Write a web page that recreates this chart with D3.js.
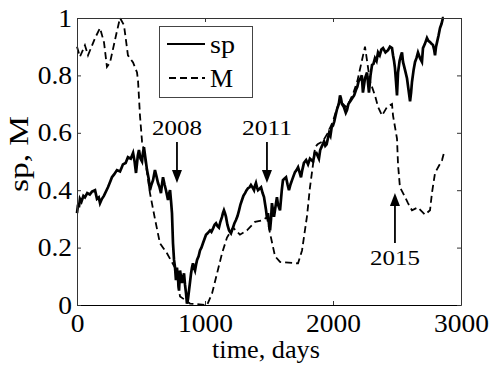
<!DOCTYPE html>
<html>
<head>
<meta charset="utf-8">
<script src="https://cdn.jsdelivr.net/npm/d3@7"></script>
<style>
  body { margin: 0; background: #fff; }
  text { font-family: "Liberation Serif", "Times New Roman", serif; fill: #000; }
</style>
</head>
<body>
<div id="chart"></div>
<script>
// sp series (time in days, normalised value)
var spDays = [0, 8, 15, 23, 35, 50, 62, 80, 100, 117, 141, 156, 170, 180, 195, 210, 242, 260, 273, 290,
  312, 336, 350, 359, 380, 398, 420, 438, 450, 461, 475, 484, 496, 508, 515, 523, 535, 547, 560, 570,
  582, 594, 609, 620, 633, 645, 656, 664, 672, 684, 695, 711, 720, 727, 735, 742, 750, 758, 766, 773,
  781, 789, 797, 805, 812, 820, 828, 836, 844, 852, 859, 867, 875, 883, 891, 898, 906, 914, 922, 930,
  938, 950, 961, 972, 984, 996, 1008, 1020, 1039, 1050, 1063, 1075, 1086, 1098, 1109, 1120, 1133, 1140, 1148, 1156,
  1164, 1175, 1188, 1195, 1203, 1211, 1219, 1230, 1242, 1254, 1266, 1277, 1289, 1300, 1313, 1325, 1336, 1348, 1359, 1371,
  1383, 1390, 1398, 1406, 1414, 1426, 1438, 1450, 1461, 1470, 1477, 1485, 1492, 1500, 1508, 1516, 1523, 1531, 1539, 1550,
  1562, 1570, 1586, 1600, 1609, 1620, 1633, 1645, 1656, 1668, 1680, 1692, 1703, 1715, 1727, 1740, 1750, 1760, 1773, 1790,
  1805, 1820, 1844, 1858, 1870, 1890, 1900, 1910, 1930, 1940, 1950, 1970, 1980, 1990, 2000, 2010, 2020, 2030, 2045, 2055,
  2062, 2070, 2085, 2100, 2110, 2120, 2135, 2150, 2165, 2180, 2190, 2200, 2215, 2225, 2234, 2250, 2266, 2281, 2293, 2305,
  2316, 2328, 2340, 2352, 2365, 2378, 2391, 2410, 2430, 2445, 2461, 2469, 2477, 2484, 2492, 2500, 2508, 2520, 2531, 2539,
  2547, 2562, 2578, 2590, 2602, 2610, 2617, 2630, 2641, 2652, 2664, 2680, 2695, 2703, 2718, 2734, 2745, 2758, 2770, 2781,
  2790, 2797, 2805, 2813, 2825, 2836, 2848, 2859, 2866];
var spValues = [0.32, 0.35, 0.34, 0.37, 0.36, 0.38, 0.375, 0.39, 0.385, 0.395, 0.40, 0.37, 0.375, 0.355, 0.37, 0.38, 0.41, 0.43, 0.445, 0.455,
  0.47, 0.465, 0.48, 0.49, 0.495, 0.515, 0.51, 0.53, 0.50, 0.46, 0.52, 0.54, 0.51, 0.50, 0.53, 0.55, 0.51, 0.47, 0.44, 0.40,
  0.42, 0.435, 0.47, 0.45, 0.425, 0.41, 0.39, 0.42, 0.445, 0.42, 0.40, 0.366, 0.39, 0.40, 0.36, 0.32, 0.215, 0.157, 0.13, 0.087,
  0.13, 0.09, 0.05, 0.12, 0.10, 0.077, 0.095, 0.11, 0.07, 0.04, 0.005, 0.02, 0.05, 0.08, 0.11, 0.13, 0.145, 0.13, 0.12, 0.14,
  0.157, 0.17, 0.19, 0.20, 0.215, 0.23, 0.245, 0.25, 0.26, 0.255, 0.267, 0.28, 0.285, 0.275, 0.27, 0.29, 0.307, 0.32, 0.33, 0.32,
  0.307, 0.28, 0.26, 0.255, 0.25, 0.26, 0.27, 0.285, 0.296, 0.31, 0.33, 0.35, 0.366, 0.38, 0.39, 0.40, 0.407, 0.41, 0.418, 0.41,
  0.40, 0.415, 0.425, 0.41, 0.40, 0.405, 0.41, 0.39, 0.376, 0.35, 0.33, 0.30, 0.32, 0.28, 0.26, 0.30, 0.355, 0.33, 0.307, 0.34,
  0.376, 0.35, 0.33, 0.40, 0.435, 0.44, 0.445, 0.42, 0.40, 0.42, 0.435, 0.45, 0.463, 0.47, 0.48, 0.46, 0.445, 0.47, 0.495, 0.505,
  0.49, 0.51, 0.50, 0.53, 0.53, 0.51, 0.54, 0.55, 0.57, 0.555, 0.56, 0.60, 0.59, 0.62, 0.625, 0.64, 0.66, 0.68, 0.70, 0.73,
  0.72, 0.70, 0.69, 0.67, 0.68, 0.70, 0.71, 0.72, 0.73, 0.75, 0.76, 0.78, 0.79, 0.80, 0.74, 0.79, 0.81, 0.74, 0.80, 0.836,
  0.84, 0.86, 0.85, 0.88, 0.87, 0.89, 0.895, 0.88, 0.888, 0.90, 0.895, 0.87, 0.85, 0.826, 0.78, 0.73, 0.81, 0.85, 0.87, 0.88,
  0.847, 0.82, 0.79, 0.75, 0.71, 0.74, 0.777, 0.82, 0.847, 0.86, 0.88, 0.86, 0.847, 0.895, 0.91, 0.93, 0.92, 0.916, 0.91, 0.906,
  0.89, 0.87, 0.90, 0.916, 0.94, 0.965, 0.98, 1.0, 1.0];

// M series
var mDays = [0, 23, 62, 86, 141, 180, 211, 234, 258, 305, 336, 367, 398, 438, 469, 477, 492, 508, 523, 570,
  609, 648, 703, 766, 805, 883, 1016, 1055, 1094, 1133, 1172, 1219, 1273, 1328, 1391, 1445, 1484, 1508, 1547, 1586,
  1727, 1758, 1797, 1820, 1844, 1860, 1880, 1920, 1960, 2000, 2020, 2050, 2080, 2100, 2130, 2160, 2190, 2220, 2240, 2250,
  2289, 2328, 2352, 2383, 2422, 2461, 2469, 2500, 2508, 2523, 2547, 2586, 2617, 2664, 2719, 2758, 2773, 2797, 2852, 2867];
var mValues = [0.90, 0.865, 0.905, 0.87, 0.93, 0.965, 0.915, 0.83, 0.845, 0.94, 1.0, 0.975, 0.87, 0.845, 0.81, 0.78, 0.66, 0.57, 0.54, 0.39,
  0.30, 0.215, 0.18, 0.13, 0.03, 0.005, 0.0, 0.04, 0.11, 0.18, 0.235, 0.27, 0.245, 0.26, 0.29, 0.295, 0.305, 0.25, 0.17, 0.15,
  0.145, 0.19, 0.31, 0.41, 0.49, 0.55, 0.56, 0.57, 0.60, 0.64, 0.67, 0.71, 0.70, 0.69, 0.71, 0.74, 0.78, 0.84, 0.88, 0.90,
  0.78, 0.73, 0.69, 0.66, 0.69, 0.70, 0.66, 0.58, 0.49, 0.41, 0.39, 0.355, 0.33, 0.34, 0.315, 0.33, 0.39, 0.46, 0.505, 0.53];

var xTicks = [0, 1000, 2000, 3000];
var yTicks = [0, 0.2, 0.4, 0.6, 0.8, 1];

// annotations: label, day, arrow tail value, arrow tip value, label baseline value
var annLabels = ["2008", "2011", "2015"];
var annDays = [781, 1484, 2484];
var annTail = [0.568, 0.568, 0.216];
var annTip = [0.425, 0.425, 0.39];
var annText = [0.592, 0.592, 0.139];

var width = 489, height = 365;
var plotLeft = 77, plotRight = 461, plotTop = 18, plotBottom = 305;

var svg = d3.select("#chart").append("svg")
  .attr("width", width)
  .attr("height", height);

svg.append("rect").attr("width", width).attr("height", height).attr("fill", "#fff");

var x = d3.scaleLinear().domain([0, 3000]).range([plotLeft, plotRight]);
var y = d3.scaleLinear().domain([0, 1]).range([plotBottom, plotTop]);

var line = d3.line()
  .x(function(d) { return x(d[0]); })
  .y(function(d) { return y(d[1]); });

var spData = spDays.map(function(d, i) { return [d, spValues[i]]; });
var mData = mDays.map(function(d, i) { return [d, mValues[i]]; });

// the picture is a bit wider than tall, so stretch text horizontally
function stretch(sel, k) {
  sel.each(function() {
    var w = this.getComputedTextLength();
    d3.select(this).attr("textLength", w * k).attr("lengthAdjust", "spacingAndGlyphs");
  });
}

// lines
svg.append("path")
  .datum(mData)
  .attr("d", line)
  .attr("fill", "none")
  .attr("stroke", "#000")
  .attr("stroke-width", 1.8)
  .attr("stroke-dasharray", "7,4");

svg.append("path")
  .datum(spData)
  .attr("d", line)
  .attr("fill", "none")
  .attr("stroke", "#000")
  .attr("stroke-width", 2.7)
  .attr("stroke-linejoin", "miter");

// axes, MATLAB-style ticks pointing inward
var fontSize = 25;

var xAxis = svg.append("g")
  .attr("transform", "translate(0," + plotBottom + ")")
  .call(d3.axisBottom(x).tickValues(xTicks).tickSizeInner(-4).tickSizeOuter(0).tickPadding(9).tickFormat(d3.format("d")));

var yAxis = svg.append("g")
  .attr("transform", "translate(" + plotLeft + ",0)")
  .call(d3.axisLeft(y).tickValues(yTicks).tickSizeInner(-4).tickSizeOuter(0).tickPadding(5).tickFormat(function(d) { return d3.format("")(d); }));

svg.append("g")
  .attr("transform", "translate(0," + plotTop + ")")
  .call(d3.axisTop(x).tickValues(xTicks).tickSizeInner(-4).tickSizeOuter(0).tickFormat(""));

svg.append("g")
  .attr("transform", "translate(" + plotRight + ",0)")
  .call(d3.axisRight(y).tickValues(yTicks).tickSizeInner(-4).tickSizeOuter(0).tickFormat(""));

svg.selectAll(".domain").attr("stroke", "#333").attr("stroke-width", 1);
svg.selectAll(".tick line").attr("stroke", "#333");
svg.selectAll(".tick text")
  .style("font-family", "'Liberation Serif', serif")
  .style("font-size", fontSize + "px")
  .attr("fill", "#000")
  .call(stretch, 1.1);
xAxis.select(".domain").attr("stroke", "#000");

// axis labels
svg.append("text")
  .attr("x", 266)
  .attr("y", 358)
  .attr("text-anchor", "middle")
  .style("font-size", "25px")
  .text("time, days")
  .call(stretch, 1.05);

svg.append("text")
  .attr("transform", "translate(28,154) rotate(-90)")
  .attr("text-anchor", "middle")
  .attr("textLength", 76)
  .attr("lengthAdjust", "spacingAndGlyphs")
  .style("font-size", "28px")
  .text("sp, M");

// annotations
annLabels.forEach(function(lab, i) {
  var ax = x(annDays[i]);
  var y0 = y(annTail[i]), y1 = y(annTip[i]);
  var dir = y1 > y0 ? 1 : -1;
  svg.append("line")
    .attr("x1", ax).attr("x2", ax)
    .attr("y1", y0).attr("y2", y1 - dir * 10)
    .attr("stroke", "#000")
    .attr("stroke-width", 1.8);
  svg.append("path")
    .attr("d", "M" + ax + "," + y1 + "L" + (ax - 5) + "," + (y1 - dir * 13) + "L" + (ax + 5) + "," + (y1 - dir * 13) + "Z")
    .attr("fill", "#000");
  svg.append("text")
    .attr("x", ax)
    .attr("y", y(annText[i]))
    .attr("text-anchor", "middle")
    .attr("textLength", 50)
    .attr("lengthAdjust", "spacingAndGlyphs")
    .style("font-size", "21px")
    .text(lab);
});

// legend
var lg = svg.append("g");
lg.append("rect")
  .attr("x", 159.5).attr("y", 26.5)
  .attr("width", 93).attr("height", 71)
  .attr("fill", "#fff")
  .attr("stroke", "#444")
  .attr("stroke-width", 1);
lg.append("line")
  .attr("x1", 167).attr("x2", 205).attr("y1", 44).attr("y2", 44)
  .attr("stroke", "#000").attr("stroke-width", 1.8);
lg.append("text").attr("x", 210).attr("y", 53).style("font-size", "26px").text("sp").call(stretch, 1.08);
lg.append("line")
  .attr("x1", 169).attr("x2", 205).attr("y1", 78).attr("y2", 78)
  .attr("stroke", "#000").attr("stroke-width", 1.8)
  .attr("stroke-dasharray", "7,4");
lg.append("text").attr("x", 210).attr("y", 87).style("font-size", "26px").text("M");
</script>
</body>
</html>
